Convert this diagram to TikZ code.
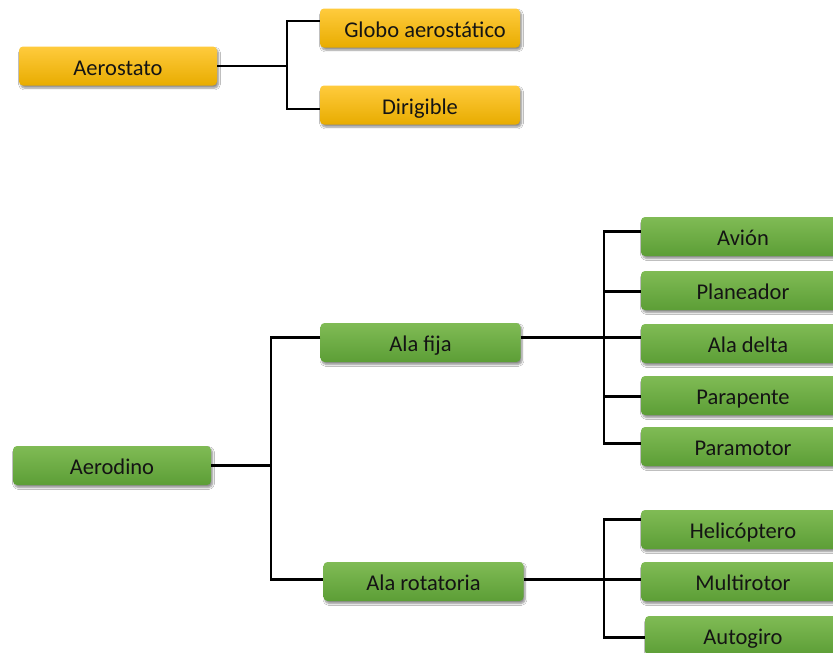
\documentclass[tikz,border=0pt]{standalone}
\usepackage{fontspec}
\setmainfont{Carlito}
\usetikzlibrary{shadows.blur}
\definecolor{yTop}{HTML}{FFCB3D}
\definecolor{yBot}{HTML}{E8AC00}
\definecolor{gTop}{HTML}{80BB55}
\definecolor{gBot}{HTML}{5C9E36}
\definecolor{txt}{HTML}{141414}
\tikzset{
  box/.style={rectangle, rounded corners=4pt, minimum height=39pt, inner sep=0pt,
    text=txt, font=\fontsize{22.5}{26}\selectfont, text height=18pt, text depth=0pt,
    blur shadow={shadow xshift=1.5pt, shadow yshift=-2.5pt, shadow blur steps=6, shadow opacity=45}},
  ybox/.style={box, top color=yTop, bottom color=yBot, minimum width=200pt},
  gbox/.style={box, top color=gTop, bottom color=gBot, minimum width=200pt},
  conn/.style={line width=2.4pt, black}
}
\begin{document}
\begin{tikzpicture}[x=1pt,y=-1pt]
\clip (0,0) rectangle (833,653);
\fill[white] (0,0) rectangle (833,653);

% aerostatos
\node[ybox, minimum width=198pt] (aerostato) at (118,66) {Aerostato};
\node[ybox] (globo) at (420,28) {\hspace*{10pt}Globo aerostático};
\node[ybox] (dirigible) at (420,105) {Dirigible};

% aerodinos
\node[gbox, minimum width=198pt] (aerodino) at (112,465.5) {Aerodino};
\node[gbox] (alafija) at (420.5,342.5) {Ala fija};
\node[gbox] (rotatoria) at (423.5,581.5) {Ala rotatoria};

\node[gbox, minimum width=204pt] (avion) at (743,236.5) {Avión};
\node[gbox, minimum width=204pt] (planeador) at (743,290.5) {Planeador};
\node[gbox, minimum width=204pt] (aladelta) at (743,343.5) {\hspace*{10pt}Ala delta};
\node[gbox, minimum width=204pt] (parapente) at (743,395.5) {Parapente};
\node[gbox, minimum width=204pt] (paramotor) at (743,446.5) {Paramotor};

\node[gbox, minimum width=204pt] (helicoptero) at (743,529.5) {Helicóptero};
\node[gbox, minimum width=204pt] (multirotor) at (743,581.5) {Multirotor};
\node[gbox, minimum width=196pt] (autogiro) at (743,635.5) {Autogiro};

% vertical buses
\coordinate (busA) at (287,0);
\coordinate (busB) at (271,0);
\coordinate (busC) at (604,0);

% connection points on the boxes
\coordinate (pGlobo) at ([yshift=7pt]globo.west);
\coordinate (pDirig) at ([yshift=-4pt]dirigible.west);
\coordinate (pFijaW) at ([yshift=5pt]alafija.west);
\coordinate (pFijaE) at ([yshift=5pt]alafija.east);
\coordinate (pRotW) at ([yshift=2pt]rotatoria.west);
\coordinate (pRotE) at ([yshift=2pt]rotatoria.east);
\coordinate (pAvion) at ([yshift=5pt]avion.west);
\coordinate (pPlan) at ([yshift=-1pt]planeador.west);
\coordinate (pDelta) at ([yshift=6pt]aladelta.west);
\coordinate (pParap) at ([yshift=-1pt]parapente.west);
\coordinate (pParam) at ([yshift=3pt]paramotor.west);
\coordinate (pHeli) at ([yshift=10pt]helicoptero.west);
\coordinate (pMulti) at ([yshift=2pt]multirotor.west);
\coordinate (pAuto) at ([yshift=-2pt]autogiro.west);

% aerostato tree
\draw[conn] (aerostato.east) -- (aerostato.east -| busA);
\draw[conn] (pGlobo) -- (pGlobo -| busA) -- (pDirig -| busA) -- (pDirig);

% aerodino tree
\draw[conn] (aerodino.east) -- (aerodino.east -| busB);
\draw[conn] (pFijaW) -- (pFijaW -| busB) -- (pRotW -| busB) -- (pRotW);

% ala fija branch
\draw[conn] (pFijaE) -- (pFijaE -| busC);
\draw[conn] (pAvion) -- (pAvion -| busC) -- (pParam -| busC) -- (pParam);
\draw[conn] (pPlan -| busC) -- (pPlan);
\draw[conn] (pDelta -| busC) -- (pDelta);
\draw[conn] (pParap -| busC) -- (pParap);

% ala rotatoria branch
\draw[conn] (pRotE) -- (pRotE -| busC);
\draw[conn] (pHeli) -- (pHeli -| busC) -- (pAuto -| busC) -- (pAuto);
\draw[conn] (pMulti -| busC) -- (pMulti);
\end{tikzpicture}
\end{document}
